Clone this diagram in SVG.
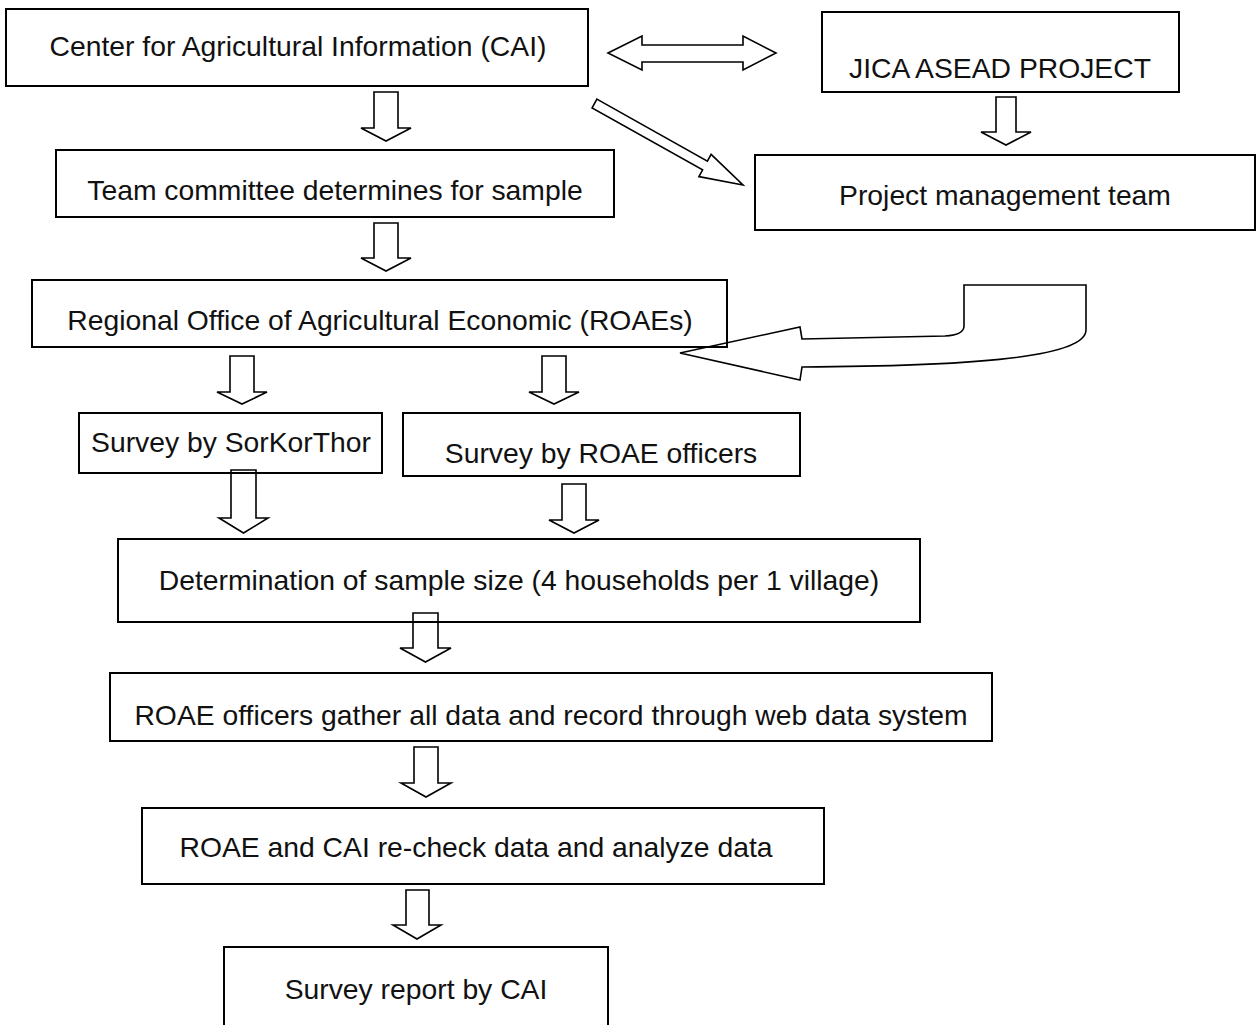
<svg xmlns="http://www.w3.org/2000/svg" width="1257" height="1025" viewBox="0 0 1257 1025">
<style>
.box{fill:none;stroke:#000;stroke-width:2}
.arw{fill:#fff;stroke:#000;stroke-width:1.6;stroke-linejoin:miter}
text{font-family:"Liberation Sans",Arial,sans-serif;font-size:28.3px;fill:#111;text-anchor:middle}
</style>
<rect width="1257" height="1025" fill="#fff"/>
<g id="connectors">
<polygon class="arw" points="608,53 642,36 642,45 743,45 743,36 776,53 743,70 743,62 642,62 642,70"/>
<polygon class="arw" points="596.9,99.1 707.4,161.1 711.1,154.4 743,185 698.9,176.6 702.6,169.9 592.1,107.9"/>
<path class="arw" d="M680,353 L800,327 L802,339 L945,336 Q964,335 964,326 L964,285 L1086,285 L1086,330 C1086,360 950,366 802,367 L800,380 Z"/>
<polygon class="arw" points="374,92 398,92 398,128 411,128 386,141 361,128 374,128"/>
<polygon class="arw" points="996,97 1016,97 1016,132 1031,132 1006,145 981,132 996,132"/>
<polygon class="arw" points="374,223 398,223 398,258 411,258 386,271 361,258 374,258"/>
<polygon class="arw" points="230,356 254,356 254,392 267,392 242,404 217,392 230,392"/>
<polygon class="arw" points="542,356 566,356 566,392 579,392 554,404 529,392 542,392"/>
<polygon class="arw" points="231,470 256,470 256,518 268,518 243.5,533 219,518 231,518"/>
<polygon class="arw" points="562,484 586,484 586,520 599,520 574,533 549,520 562,520"/>
<polygon class="arw" points="413,613 438,613 438,648 451,648 425.5,662 400,648 413,648"/>
<polygon class="arw" points="414,747 438,747 438,783 451,783 426,797 401,783 414,783"/>
<polygon class="arw" points="406,890 429,890 429,925 441,925 417,939 393,925 406,925"/>
</g>
<g id="n-cai"><rect class="box" x="6" y="9" width="582" height="77"/><text x="298" y="56">Center for Agricultural Information (CAI)</text></g>
<g id="n-jica"><rect class="box" x="822" y="12" width="357" height="80"/><text x="1000" y="78">JICA ASEAD PROJECT</text></g>
<g id="n-pmt"><rect class="box" x="755" y="155" width="500" height="75"/><text x="1005" y="205">Project management team</text></g>
<g id="n-team"><rect class="box" x="56" y="150" width="558" height="67"/><text x="335" y="200">Team committee determines for sample</text></g>
<g id="n-roaes"><rect class="box" x="32" y="280" width="695" height="67"/><text x="380" y="330">Regional Office of Agricultural Economic (ROAEs)</text></g>
<g id="n-skt"><rect class="box" x="79" y="413" width="303" height="60"/><text x="231" y="452">Survey by SorKorThor</text></g>
<g id="n-roaeoff"><rect class="box" x="403" y="413" width="397" height="63"/><text x="601" y="463">Survey by ROAE officers</text></g>
<g id="n-sample"><rect class="box" x="118" y="539" width="802" height="83"/><text x="519" y="590">Determination of sample size (4 households per 1 village)</text></g>
<g id="n-gather"><rect class="box" x="110" y="673" width="882" height="68"/><text x="551" y="725">ROAE officers gather all data and record through web data system</text></g>
<g id="n-recheck"><rect class="box" x="142" y="808" width="682" height="76"/><text x="476" y="857">ROAE and CAI re-check data and analyze data</text></g>
<g id="n-report"><path class="box" d="M224,1030 L224,947 L608,947 L608,1030"/><text x="416" y="999">Survey report by CAI</text></g>
</svg>
